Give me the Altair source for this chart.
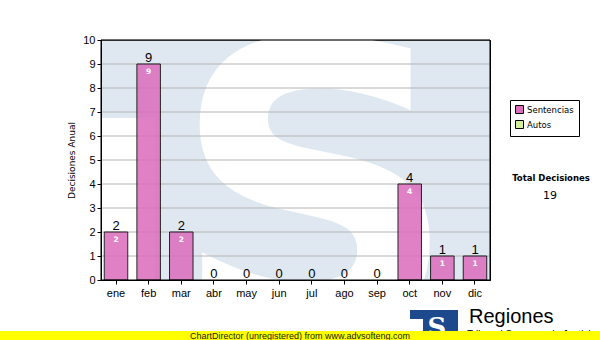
import altair as alt
import pandas as pd

months = ["ene", "feb", "mar", "abr", "may", "jun", "jul", "ago", "sep", "oct", "nov", "dic"]
sentencias = [2, 9, 2, 0, 0, 0, 0, 0, 0, 4, 1, 1]
autos = [0, 0, 0, 0, 0, 0, 0, 0, 0, 0, 0, 0]
series_names = ["Sentencias", "Autos"]
series_colors = ["#dc6cbc", "#d4ee9c"]
grid_values = [1, 2, 3, 4, 5, 6, 7, 8, 9, 10]
total_label = "Total Decisiones"
total_value = str(sum(sentencias) + sum(autos))

W, H = 389, 240

df = pd.DataFrame({"mes": months, "valor": sentencias, "serie": "Sentencias"})
df_pos = df[df["valor"] > 0]
grid_df = pd.DataFrame({"v": grid_values})
one = pd.DataFrame({"a": [0]})

xaxis = alt.Axis(title=None, labelAngle=0, labelFont="Liberation Sans", labelFontSize=11,
                 labelColor="black", tickColor="black", domainColor="black", tickSize=4,
                 labelPadding=3, zindex=1)
xscale = alt.Scale(paddingInner=0.28, paddingOuter=0.1)
yaxis = alt.Axis(title="Decisiones Anual", values=list(range(0, 11)), grid=False,
                 labelFont="Liberation Sans", labelFontSize=11, labelColor="black",
                 tickColor="black", domainColor="black", tickSize=4, labelPadding=2,
                 titleFont="DejaVu Sans", titleFontSize=9, titleFontWeight="normal",
                 titleColor="black", titlePadding=6, zindex=1)
yscale = alt.Scale(domain=[0, 10], nice=False)


def X():
    return alt.X("mes:N", sort=months, scale=xscale, axis=xaxis)


def Y(field):
    return alt.Y(field, scale=yscale, axis=yaxis, title="Decisiones Anual")


# background decoration (faded logo)
notch = alt.Chart(one).mark_rect(color="white").encode(
    x=alt.value(0), x2=alt.value(54), y=alt.value(78), y2=alt.value(H))
big_s = alt.Chart(one).mark_text(text="S", font="DejaVu Sans", fontWeight="bold", fontSize=400,
                                 color="white", clip=True, baseline="alphabetic", align="center").encode(
    x=alt.value(214), y=alt.value(291))

grid = alt.Chart(grid_df).mark_rule(color="#b4b4b4", strokeWidth=1).encode(
    y=Y("v:Q"), x=alt.value(0), x2=alt.value(W))

bars = alt.Chart(df_pos).mark_bar(stroke="black", strokeWidth=1, opacity=0.85).encode(
    x=X(),
    y=Y("valor:Q"),
    color=alt.Color("serie:N", scale=alt.Scale(domain=series_names, range=series_colors),
                    legend=alt.Legend(title=None, orient="none", legendX=409, legendY=60,
                                      fillColor="white", strokeColor="black", padding=5,
                                      symbolType="square", symbolSize=64, symbolStrokeColor="black",
                                      symbolStrokeWidth=1, symbolOpacity=1, labelFont="DejaVu Sans",
                                      labelFontSize=8.5, labelColor="black", rowPadding=2,
                                      labelOffset=3)),
)

top_labels = alt.Chart(df).mark_text(font="Liberation Sans", fontSize=13, color="black",
                                     baseline="alphabetic", dy=-2).encode(
    x=X(), y=Y("valor:Q"), text="valor:Q")

in_labels = alt.Chart(df_pos).mark_text(font="DejaVu Sans", fontWeight="bold", fontSize=7.5,
                                        color="white", baseline="middle", dy=8).encode(
    x=X(), y=Y("valor:Q"), text="valor:Q")

frame = alt.Chart(one).mark_rect(fillOpacity=0, stroke="black", strokeWidth=1).encode(
    x=alt.value(0), x2=alt.value(W), y=alt.value(0), y2=alt.value(H))

total_t = alt.Chart(one).mark_text(text=total_label, font="DejaVu Sans", fontWeight="bold",
                                   fontSize=8.5, color="black", align="center").encode(
    x=alt.value(450), y=alt.value(138))
total_v = alt.Chart(one).mark_text(text=total_value, font="DejaVu Sans", fontSize=11,
                                   color="black", align="center").encode(
    x=alt.value(449), y=alt.value(156))

logo_box = alt.Chart(one).mark_rect(color="#1c4a8c").encode(
    x=alt.value(309), x2=alt.value(357), y=alt.value(270), y2=alt.value(291))
logo_notch = alt.Chart(one).mark_rect(color="white").encode(
    x=alt.value(309), x2=alt.value(322), y=alt.value(279), y2=alt.value(291))
logo_s = alt.Chart(one).mark_text(text="S", font="DejaVu Serif", fontWeight="bold", fontSize=26,
                                  color="white", align="center", baseline="alphabetic").encode(
    x=alt.value(336), y=alt.value(296))
regiones = alt.Chart(one).mark_text(text="Regiones", font="Liberation Sans", fontSize=20,
                                    color="black", align="left", baseline="alphabetic").encode(
    x=alt.value(368), y=alt.value(283))
sub = alt.Chart(one).mark_text(text="Tribunal Supremo de Justicia", font="Liberation Sans", fontSize=10,
                               color="black", align="left", baseline="alphabetic").encode(
    x=alt.value(366), y=alt.value(298))
yellow = alt.Chart(one).mark_rect(color="#ffff00").encode(
    x=alt.value(-101), x2=alt.value(499), y=alt.value(291), y2=alt.value(300))
cd_text = alt.Chart(one).mark_text(text="ChartDirector (unregistered) from www.advsofteng.com",
                                   font="Liberation Sans", fontSize=9, color="#222200",
                                   align="center", baseline="middle").encode(
    x=alt.value(199), y=alt.value(295.5))

chart = alt.layer(
    notch, big_s, grid, bars, top_labels, in_labels, frame, total_t, total_v,
    logo_box, logo_notch, logo_s, regiones, sub, yellow, cd_text
).properties(
    width=W, height=H,
    autosize=alt.AutoSizeParams(type="none"),
    padding={"left": 101, "top": 40, "right": 110, "bottom": 60},
    background="white",
).configure_view(fill="#dfe8f1", stroke="black", strokeWidth=1)

chart.save("out.html", embed_options={"renderer": "svg", "actions": False})
